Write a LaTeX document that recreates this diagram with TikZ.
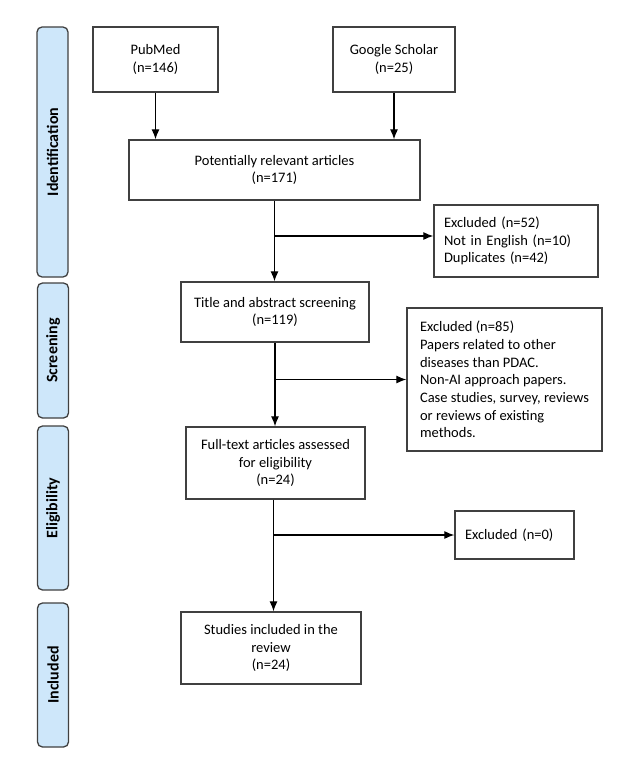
\documentclass[tikz,border=0pt]{standalone}
\usepackage{fontspec}
\setmainfont{Carlito}
\usetikzlibrary{arrows}
\usetikzlibrary{arrows.meta}
\usetikzlibrary{positioning}
\definecolor{phasefill}{RGB}{206,231,250}
\definecolor{boxline}{RGB}{64,64,64}

\begin{document}
\begin{tikzpicture}[x=1pt, y=-1pt,
    box/.style={draw=boxline, line width=1.3pt, align=center, inner sep=0pt, font=\fontsize{14.5}{17.7}\selectfont},
    note/.style={draw=boxline, line width=1.3pt, align=left, inner xsep=10pt, inner ysep=0pt, font=\fontsize{14.5}{17.7}\selectfont},
    phase/.style={draw=boxline, fill=phasefill, rounded corners=5pt, line width=1.3pt, minimum height=31pt, inner sep=0pt, font=\fontsize{16}{19}\selectfont\bfseries, rotate=90},
    flow/.style={-{Latex[length=10pt,width=8pt]}, line width=1.2pt, black}]
    \useasboundingbox (0,0) rectangle (638,765);

    \node[phase, minimum width=250pt] (ident) at (52.5, 152) {Identification};
    \node[phase, minimum width=135pt] (screen) at (53, 350.5) {Screening};
    \node[phase, minimum width=164pt] (elig) at (53, 508) {Eligibility};
    \node[phase, minimum width=144pt] (incl) at (53, 675) {Included};

    \node[box, minimum width=125pt, minimum height=65pt] (pubmed) at (155.5, 59.5) {PubMed\\(n=146)};
    \node[box, minimum width=122pt, minimum height=65pt] (google) at (394, 59.5) {Google Scholar\\(n=25)};
    \node[box, minimum width=291pt, minimum height=60pt] (potential) at (274.5, 170) {Potentially relevant articles\\(n=171)};
    \node[note, text width=144pt, minimum height=72pt] (exclA) at (516, 241) {Excluded (n=52)\\Not in English (n=10)\\Duplicates (n=42)};
    \node[box, minimum width=188pt, minimum height=60pt] (title) at (275, 312) {Title and abstract screening\\(n=119)};
    \node[note, minimum width=195pt, minimum height=143pt] (exclB) at (504.5, 379.5) {Excluded (n=85)\\Papers related to other\\diseases than PDAC.\\Non-AI approach papers.\\Case studies, survey, reviews\\or reviews of existing\\methods.};
    \node[box, minimum width=179pt, minimum height=72pt] (fulltext) at (275.5, 463) {Full-text articles assessed\\for eligibility\\(n=24)};
    \node[note, text width=99pt, minimum height=48pt] (exclC) at (514.5, 535) {Excluded (n=0)};
    \node[box, minimum width=180pt, minimum height=72pt] (studies) at (271, 648) {Studies included in the\\review\\(n=24)};

    \draw[flow] (pubmed.south) -- (pubmed.south |- potential.north);
    \draw[flow] (google.south) -- (google.south |- potential.north);
    \draw[flow] (potential.south) -- (potential.south |- title.north);
    \draw[flow] (potential.south |- exclA.west) ++(0,-5) -- ([yshift=5pt]exclA.west);
    \draw[flow] (title.south) -- (title.south |- fulltext.north);
    \draw[flow] (title.south |- exclB.west) -- (exclB.west);
    \draw[flow] ([xshift=-2pt]fulltext.south) -- ([xshift=-2pt]fulltext.south |- studies.north);
    \draw[flow] ([xshift=-2pt]fulltext.south |- exclC.west) -- (exclC.west);
\end{tikzpicture}
\end{document}
